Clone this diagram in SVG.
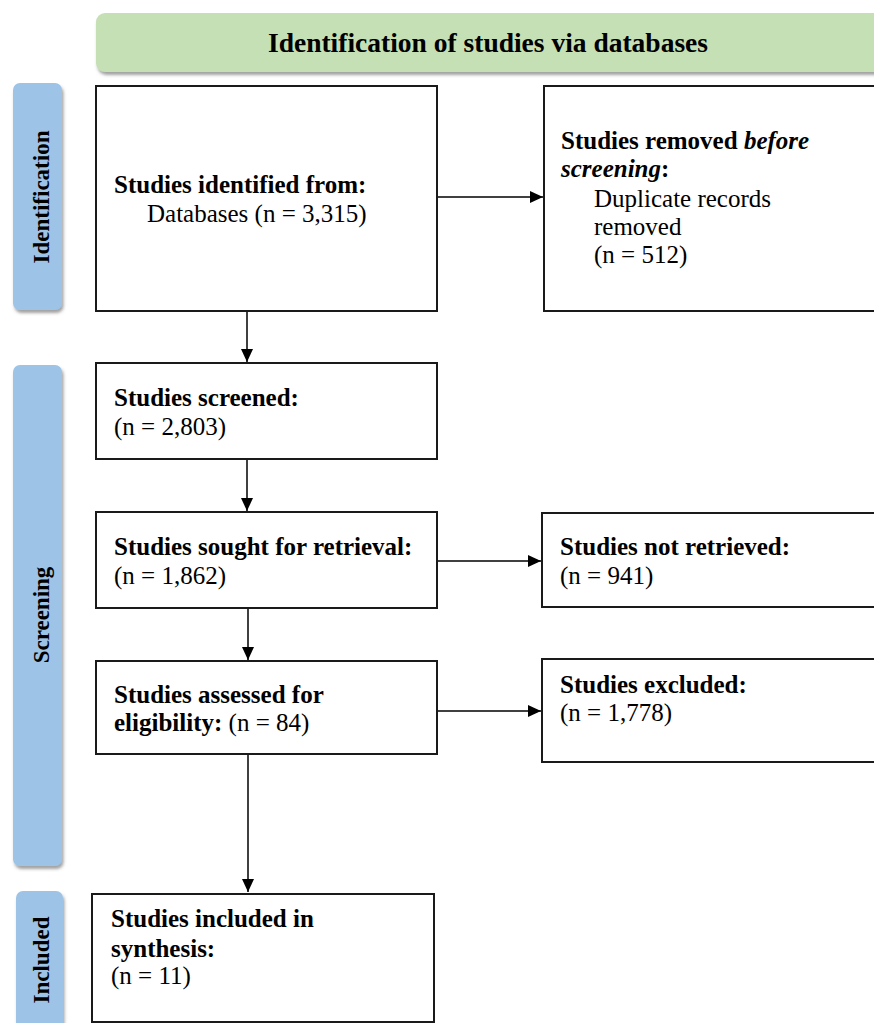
<svg xmlns="http://www.w3.org/2000/svg" width="874" height="1023" viewBox="0 0 874 1023">
<defs>
<style>
.box{fill:#ffffff;stroke:#1a1a1a;stroke-width:2}
.band{fill:#9dc3e6}
.hdr{fill:#c5e0b4}
.t{font-family:"Liberation Serif","Times New Roman",serif;font-size:25px;fill:#000}
.b{font-weight:bold}
.i{font-style:italic}
.side{font-family:"Liberation Serif","Times New Roman",serif;font-size:23px;font-weight:bold;fill:#000;text-anchor:middle}
.head{font-family:"Liberation Serif","Times New Roman",serif;font-size:27.5px;font-weight:bold;fill:#000;text-anchor:middle}
.con{stroke:#000;stroke-width:1.5;fill:none;marker-end:url(#arr)}
</style>
<filter id="sh" x="-10%" y="-10%" width="130%" height="130%">
<feDropShadow dx="1.5" dy="3" stdDeviation="1.6" flood-color="#555" flood-opacity="0.55"/>
</filter>
<marker id="arr" markerUnits="userSpaceOnUse" markerWidth="14" markerHeight="12" refX="13" refY="6" orient="auto">
<path d="M0,0 L13,6 L0,12 z" fill="#000"/>
</marker>
</defs>
<rect width="874" height="1023" fill="#ffffff"/>

<g id="header">
<rect class="hdr" x="96" y="13" width="790" height="59" rx="9" filter="url(#sh)"/>
<text class="head" x="488" y="52">Identification of studies via databases</text>
</g>

<g id="band-identification">
<rect class="band" x="13" y="83" width="49" height="227" rx="7" filter="url(#sh)"/>
<text class="side" transform="translate(41,197) rotate(-90)" x="0" y="8">Identification</text>
</g>
<g id="band-screening">
<rect class="band" x="13" y="365" width="49" height="501" rx="7" filter="url(#sh)"/>
<text class="side" transform="translate(41,615) rotate(-90)" x="0" y="8">Screening</text>
</g>
<g id="band-included">
<rect class="band" x="16" y="891" width="47" height="150" rx="7" filter="url(#sh)"/>
<text class="side" transform="translate(41,960) rotate(-90)" x="0" y="8">Included</text>
</g>

<g id="connectors">
<line class="con" x1="438" y1="197" x2="543" y2="197"/>
<line class="con" x1="247" y1="312" x2="247" y2="362"/>
<line class="con" x1="247" y1="459" x2="247" y2="511"/>
<line class="con" x1="438" y1="561" x2="541" y2="561"/>
<line class="con" x1="248" y1="608" x2="248" y2="660"/>
<line class="con" x1="438" y1="711" x2="541" y2="711"/>
<line class="con" x1="248" y1="755" x2="248" y2="892"/>
</g>

<g id="node-identified">
<rect class="box" x="96" y="86" width="341" height="225"/>
<text class="t b" x="114" y="193">Studies identified from:</text>
<text class="t" x="147" y="222">Databases (n = 3,315)</text>
</g>

<g id="node-removed">
<rect class="box" x="544" y="86" width="340" height="225"/>
<text class="t b" x="561" y="149">Studies removed <tspan class="i">before</tspan></text>
<text class="t b" x="561" y="177"><tspan class="i">screening</tspan>:</text>
<text class="t" x="594" y="207">Duplicate records</text>
<text class="t" x="594" y="235">removed</text>
<text class="t" x="594" y="263">(n = 512)</text>
</g>

<g id="node-screened">
<rect class="box" x="96" y="363" width="341" height="96"/>
<text class="t b" x="114" y="406">Studies screened:</text>
<text class="t" x="114" y="435">(n = 2,803)</text>
</g>

<g id="node-sought">
<rect class="box" x="96" y="512" width="341" height="96"/>
<text class="t b" x="114" y="555">Studies sought for retrieval:</text>
<text class="t" x="114" y="584">(n = 1,862)</text>
</g>

<g id="node-not-retrieved">
<rect class="box" x="542" y="513" width="342" height="94"/>
<text class="t b" x="560" y="555">Studies not retrieved:</text>
<text class="t" x="560" y="584">(n = 941)</text>
</g>

<g id="node-assessed">
<rect class="box" x="96" y="661" width="341" height="93"/>
<text class="t b" x="114" y="703">Studies assessed for</text>
<text class="t" x="114" y="731"><tspan class="b">eligibility:</tspan> (n = 84)</text>
</g>

<g id="node-excluded">
<rect class="box" x="542" y="659" width="342" height="103"/>
<text class="t b" x="560" y="693">Studies excluded:</text>
<text class="t" x="560" y="721">(n = 1,778)</text>
</g>

<g id="node-included">
<rect class="box" x="92" y="894" width="342" height="128"/>
<text class="t b" x="111" y="927">Studies included in</text>
<text class="t b" x="111" y="957">synthesis:</text>
<text class="t" x="111" y="984">(n = 11)</text>
</g>
</svg>
